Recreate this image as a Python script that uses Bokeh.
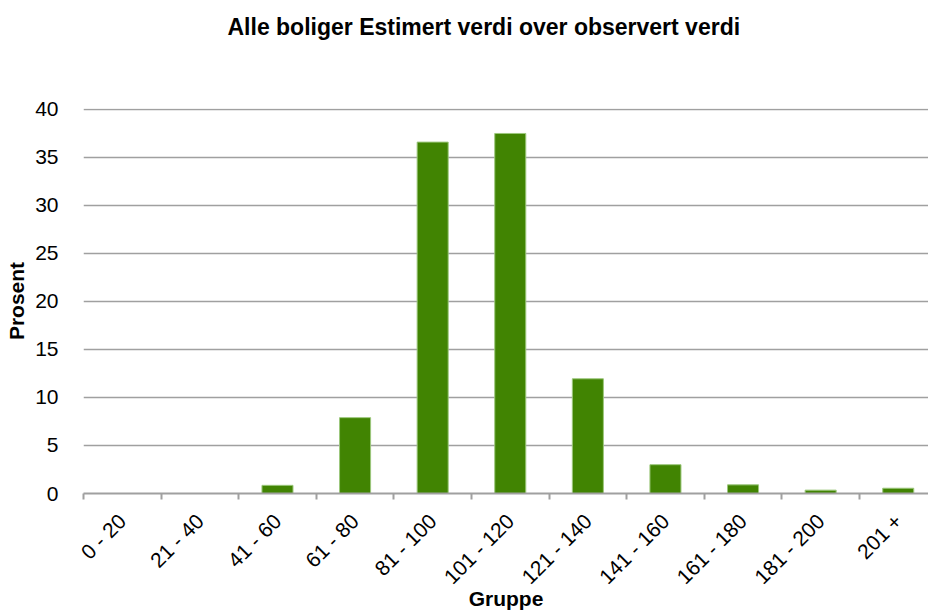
import math
from bokeh.plotting import figure
from bokeh.models import Range1d, FixedTicker, ColumnDataSource, Title
from bokeh.embed import file_html
from bokeh.resources import INLINE

categories = ["0 - 20", "21 - 40", "41 - 60", "61 - 80", "81 - 100", "101 - 120",
              "121 - 140", "141 - 160", "161 - 180", "181 - 200", "201 +"]
values = [0.0, 0.0, 0.85, 7.9, 36.6, 37.5, 11.95, 3.0, 0.9, 0.35, 0.55]
y_ticks = [0, 5, 10, 15, 20, 25, 30, 35, 40]

FONT = "Liberation Sans"
GRID = "#a0a0a0"

centers = [i + 0.5 for i in range(len(categories))]
src = ColumnDataSource(dict(x=centers, top=values, cat=categories))

p = figure(width=928, height=612, output_backend="svg", toolbar_location=None,
           x_range=Range1d(0, 10.89), y_range=Range1d(0, 40.1),
           min_border_left=83, min_border_right=0, min_border_top=108,
           min_border_bottom=118)
p.outline_line_color = None

p.vbar(x="x", top="top", width=0.4, source=src, fill_color="#418402",
       line_color="#9cc77c", line_width=1)

# spacer between frame and title
spacer = Title(text=" ", text_font_size="1px", standoff=66, text_color="#ffffff")
p.add_layout(spacer, "above")

p.title.text = "Alle boliger Estimert verdi over observert verdi"
p.title.align = "left"
p.title.offset = 144
p.title.standoff = 0
p.title.text_font = FONT
p.title.text_font_size = "23px"
p.title.text_font_style = "bold"
p.title.text_color = "#000000"

# x axis
xa = p.xaxis[0]
xa.ticker = FixedTicker(ticks=centers, minor_ticks=list(range(len(categories) + 1)))
xa.major_label_overrides = {c: lab for c, lab in zip(centers, categories)}
xa.major_label_orientation = math.pi / 4
xa.major_tick_out = 0
xa.major_tick_in = 0
xa.minor_tick_out = 6
xa.minor_tick_in = 0
xa.minor_tick_line_color = GRID
xa.minor_tick_line_width = 2
xa.axis_line_color = GRID
xa.axis_line_width = 2
xa.major_label_text_font = FONT
xa.major_label_text_font_size = "21px"
xa.major_label_text_color = "#000000"
xa.major_label_standoff = 18
xa.axis_label = "Gruppe"
xa.axis_label_text_font = FONT
xa.axis_label_text_font_size = "21px"
xa.axis_label_text_font_style = "bold"
xa.axis_label_text_color = "#000000"
xa.axis_label_standoff = -13

# y axis
ya = p.yaxis[0]
ya.ticker = FixedTicker(ticks=y_ticks)
ya.axis_line_color = None
ya.major_tick_line_color = None
ya.minor_tick_line_color = None
ya.major_label_text_font = FONT
ya.major_label_text_font_size = "21px"
ya.major_label_text_color = "#000000"
ya.major_label_standoff = 19
ya.axis_label = "Prosent"
ya.axis_label_text_font = FONT
ya.axis_label_text_font_size = "21px"
ya.axis_label_text_font_style = "bold"
ya.axis_label_text_color = "#000000"
ya.axis_label_standoff = 4

p.xgrid.grid_line_color = None
p.ygrid.grid_line_color = GRID
p.ygrid.grid_line_width = 1.5
p.ygrid.ticker = FixedTicker(ticks=y_ticks)

open("out.html", "w").write(file_html(p, INLINE))
